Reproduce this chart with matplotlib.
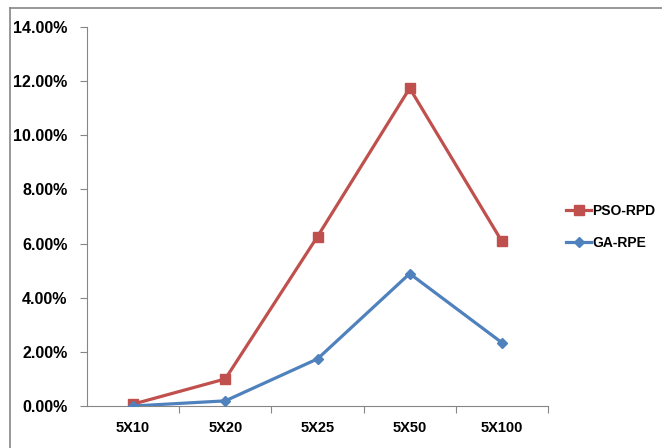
import matplotlib.pyplot as plt
from matplotlib.lines import Line2D
from matplotlib.ticker import FuncFormatter

categories = ["5X10", "5X20", "5X25", "5X50", "5X100"]
pso_rpd = [0.07, 1.0, 6.26, 11.74, 6.08]
ga_rpe = [0.0, 0.19, 1.74, 4.89, 2.34]

red = "#C0504D"
blue = "#4F81BD"
grey = "#868686"

plt.rcParams["font.family"] = ["Liberation Sans", "DejaVu Sans"]
plt.rcParams["font.weight"] = "bold"

fig = plt.figure(figsize=(6.62, 4.48), dpi=100)
ax = fig.add_axes([87 / 662, 42 / 448, 461 / 662, 379 / 448])

# chart frame (left and top edges only, the rest is clipped)
fig.add_artist(Line2D([10 / 662, 10 / 662], [0, 440 / 448], color=grey, lw=1.2))
fig.add_artist(Line2D([10 / 662, 1], [440 / 448, 440 / 448], color=grey, lw=1.2))

x = list(range(len(categories)))
ax.plot(x, pso_rpd, color=red, lw=2.3, marker="s", ms=7, label="PSO-RPD")
ax.plot(x, ga_rpe, color=blue, lw=2.3, marker="D", ms=5.5, label="GA-RPE")

ax.set_xlim(-0.5, len(categories) - 0.5)
ax.set_ylim(0, 14)
ax.set_yticks(range(0, 15, 2))
ax.yaxis.set_major_formatter(FuncFormatter(lambda v, p: f"{v:.2f}%"))

# category boundaries get the tick marks, labels sit in the middle
ax.set_xticks([i + 0.5 for i in x])
ax.set_xticklabels([])
ax.set_xticks(x, minor=True)
ax.set_xticklabels(categories, minor=True)
ax.tick_params(axis="x", which="major", length=5, color=grey, direction="out")
ax.tick_params(axis="x", which="minor", length=0, pad=11, labelsize=10.5)
ax.tick_params(axis="y", length=5, color=grey, direction="out", pad=9, labelsize=11.5)
for lbl in ax.get_xticklabels(minor=True) + ax.get_yticklabels():
    lbl.set_fontweight("bold")

for side in ["top", "right"]:
    ax.spines[side].set_visible(False)
for side in ["left", "bottom"]:
    ax.spines[side].set_color(grey)
ax.spines["bottom"].set_zorder(0)

leg = ax.legend(loc="center left", bbox_to_anchor=(566 / 662, 221 / 448),
                bbox_transform=fig.transFigure, frameon=False, fontsize=10,
                borderpad=0, borderaxespad=0,
                handlelength=1.8, handletextpad=0.1, labelspacing=1.25)
for t in leg.get_texts():
    t.set_fontweight("bold")

fig.savefig("out.png", dpi=100)
